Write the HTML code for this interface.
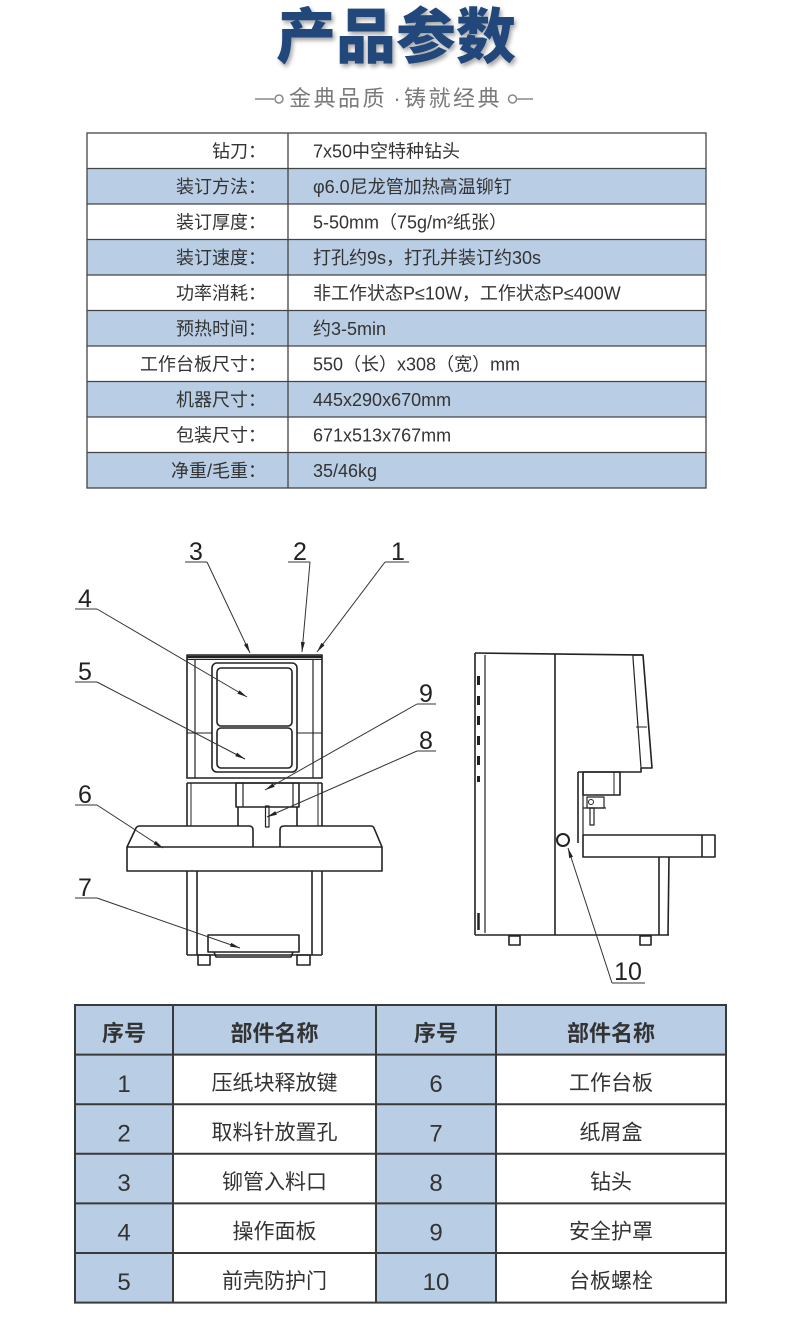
<!DOCTYPE html>
<html><head><meta charset="utf-8"><style>
html,body{margin:0;padding:0;background:#fff;}
body{width:790px;height:1320px;overflow:hidden;}
svg{display:block;}
.t{font-family:"Liberation Sans","Noto Sans CJK SC",sans-serif;}
.n{font-family:"Liberation Sans Narrow","Liberation Sans",sans-serif;}
</style></head><body>
<svg width="790" height="1320" viewBox="0 0 790 1320" xmlns="http://www.w3.org/2000/svg">
<defs>
<filter id="sh" x="-10%" y="-20%" width="130%" height="150%">
<feDropShadow dx="2" dy="3" stdDeviation="2" flood-color="#000" flood-opacity="0.35"/>
</filter>
<marker id="ar" viewBox="0 0 10 4" refX="10" refY="2" markerWidth="10" markerHeight="4" markerUnits="userSpaceOnUse" orient="auto">
<path d="M0,0 L10,2 L0,4 z" fill="#222"/>
</marker>
</defs>

<!-- Title -->
<text class="t" x="396" y="58" font-size="60" font-weight="900" fill="#24477a" text-anchor="middle" filter="url(#sh)">产品参数</text>
<g stroke="#888" stroke-width="1.5" fill="none">
<line x1="255" y1="99" x2="274" y2="99"/>
<circle cx="279" cy="99" r="4"/>
<circle cx="512.5" cy="99" r="4"/>
<line x1="517" y1="99" x2="533" y2="99"/>
</g>
<g class="t" font-size="22" fill="#7a7a7a">
<text x="289" y="106" letter-spacing="2.5">金典品质</text>
<text x="397" y="106" text-anchor="middle">·</text>
<text x="404" y="106" letter-spacing="2.5">铸就经典</text>
</g>

<!-- Top table -->
<g fill="#b9cde5">
<rect x="87" y="168.5" width="619" height="35.5"/>
<rect x="87" y="239.5" width="619" height="35.5"/>
<rect x="87" y="310.5" width="619" height="35.5"/>
<rect x="87" y="381.5" width="619" height="35.5"/>
<rect x="87" y="452.5" width="619" height="35.5"/>
</g>
<g stroke="#444" stroke-width="1.3" fill="none">
<rect x="87" y="133" width="619" height="355"/>
<line x1="87" y1="168.5" x2="706" y2="168.5"/>
<line x1="87" y1="204" x2="706" y2="204"/>
<line x1="87" y1="239.5" x2="706" y2="239.5"/>
<line x1="87" y1="275" x2="706" y2="275"/>
<line x1="87" y1="310.5" x2="706" y2="310.5"/>
<line x1="87" y1="346" x2="706" y2="346"/>
<line x1="87" y1="381.5" x2="706" y2="381.5"/>
<line x1="87" y1="417" x2="706" y2="417"/>
<line x1="87" y1="452.5" x2="706" y2="452.5"/>
<line x1="288" y1="133" x2="288" y2="488"/>
</g>
<g class="t" font-size="18" fill="#333">
<g text-anchor="end">
<text x="266" y="157.5">钻刀：</text>
<text x="266" y="193">装订方法：</text>
<text x="266" y="228.5">装订厚度：</text>
<text x="266" y="264">装订速度：</text>
<text x="266" y="299.5">功率消耗：</text>
<text x="266" y="335">预热时间：</text>
<text x="266" y="370.5">工作台板尺寸：</text>
<text x="266" y="406">机器尺寸：</text>
<text x="266" y="441.5">包装尺寸：</text>
<text x="266" y="477">净重/毛重：</text>
</g>
<text x="313" y="157.5">7x50中空特种钻头</text>
<text x="313" y="193">φ6.0尼龙管加热高温铆钉</text>
<text x="313" y="228.5">5-50mm（75g/m²纸张）</text>
<text x="313" y="264">打孔约9s，打孔并装订约30s</text>
<text x="313" y="299.5">非工作状态P≤10W，工作状态P≤400W</text>
<text x="313" y="335">约3-5min</text>
<text x="313" y="370.5">550（长）x308（宽）mm</text>
<text x="313" y="406">445x290x670mm</text>
<text x="313" y="441.5">671x513x767mm</text>
<text x="313" y="477">35/46kg</text>
</g>

<!-- Front view -->
<g stroke="#222" stroke-width="1.6" fill="none" stroke-linejoin="round">
<rect x="187" y="655" width="135" height="123"/>
<line x1="187" y1="657" x2="322" y2="657" stroke-width="2.5"/>
<line x1="187" y1="659.5" x2="322" y2="659.5" stroke-width="1"/>
<line x1="195" y1="659" x2="195" y2="778" stroke-width="1.2"/>
<line x1="313" y1="659" x2="313" y2="778" stroke-width="1.2"/>
<line x1="187" y1="733" x2="212" y2="733" stroke-width="1"/>
<line x1="297" y1="733" x2="322" y2="733" stroke-width="1"/>
<rect x="212" y="663" width="85" height="109" rx="5"/>
<rect x="217" y="668" width="75" height="58" rx="4"/>
<rect x="217" y="728" width="75" height="40" rx="4"/>
<line x1="187" y1="783" x2="322" y2="783"/>
<line x1="187" y1="783" x2="187" y2="826"/>
<line x1="322" y1="783" x2="322" y2="826"/>
<line x1="191" y1="783" x2="191" y2="826" stroke-width="1"/>
<line x1="318" y1="783" x2="318" y2="826" stroke-width="1"/>
<rect x="236" y="783" width="63" height="24"/>
<line x1="243" y1="783" x2="243" y2="807" stroke-width="1.2"/>
<line x1="293" y1="783" x2="293" y2="807" stroke-width="1.2"/>
<line x1="238" y1="807" x2="238" y2="826"/>
<line x1="297" y1="807" x2="297" y2="826"/>
<rect x="265.5" y="806" width="3.5" height="21" stroke-width="1.2"/>
<path d="M127,847 L136,828 Q137,826 140,826 L249,826 Q253,826 253,830 L253,847"/>
<path d="M280,847 L280,830 Q280,826 284,826 L371,826 Q373,826 374,828 L382,847"/>
<rect x="127" y="847" width="255" height="24"/>
<line x1="187" y1="871" x2="187" y2="955"/>
<line x1="197" y1="871" x2="197" y2="955"/>
<line x1="312" y1="871" x2="312" y2="955"/>
<line x1="322" y1="871" x2="322" y2="955"/>
<line x1="187" y1="955" x2="322" y2="955"/>
<rect x="208" y="935" width="91" height="17"/>
<path d="M214,952 L216,957 L291,957 L293,952"/>
<rect x="198" y="955" width="12" height="10"/>
<rect x="297" y="955" width="13" height="10"/>
</g>

<!-- Side view -->
<g stroke="#222" stroke-width="1.6" fill="none" stroke-linejoin="round">
<path d="M475,653 L643,655"/>
<line x1="475" y1="653" x2="475" y2="935"/>
<line x1="485" y1="655" x2="485" y2="933" stroke-width="1.2"/>
<line x1="478.5" y1="676" x2="478.5" y2="782" stroke-width="3" stroke-dasharray="9 11"/>
<line x1="478.5" y1="913" x2="478.5" y2="930" stroke-width="2.5"/>
<path d="M475,935 L669,935"/>
<line x1="555" y1="654" x2="555" y2="935"/>
<path d="M633,655 L643,655 L652,768 L641,768"/>
<path d="M633,655 L633,658 L641,768" stroke-width="1.2"/>
<line x1="636" y1="727" x2="647" y2="727" stroke-width="1"/>
<path d="M641,768 L641,772 L578,772"/>
<line x1="578" y1="772" x2="578" y2="843"/>
<line x1="583" y1="772" x2="583" y2="835" stroke-width="1.2"/>
<rect x="583" y="772" width="37" height="23"/>
<line x1="614" y1="772" x2="614" y2="795" stroke-width="1"/>
<rect x="587" y="797" width="17" height="11" stroke-width="1.2"/>
<circle cx="591" cy="802" r="2.5" stroke-width="1"/>
<line x1="583" y1="808" x2="606" y2="808" stroke-width="1.2"/>
<rect x="590" y="808" width="4" height="17" stroke-width="1.2"/>
<rect x="583" y="835" width="132" height="22"/>
<line x1="702" y1="835" x2="702" y2="857"/>
<line x1="659" y1="857" x2="659" y2="935"/>
<line x1="669" y1="857" x2="668" y2="935"/>
<rect x="509" y="936" width="11" height="9"/>
<rect x="640" y="936" width="11" height="9"/>
<circle cx="563" cy="840" r="6" stroke-width="2"/>
</g>

<!-- Leaders -->
<g stroke="#333" stroke-width="1" fill="none">
<line x1="185" y1="562" x2="207" y2="562"/>
<line x1="288" y1="562" x2="310" y2="562"/>
<line x1="385" y1="562" x2="409" y2="562"/>
<line x1="75" y1="609" x2="97" y2="609"/>
<line x1="75" y1="682" x2="97" y2="682"/>
<line x1="417" y1="704" x2="436" y2="704"/>
<line x1="417" y1="751" x2="436" y2="751"/>
<line x1="75" y1="805" x2="97" y2="805"/>
<line x1="75" y1="898" x2="97" y2="898"/>
<line x1="612" y1="983" x2="645" y2="983"/>
<g marker-end="url(#ar)">
<line x1="207" y1="562" x2="250" y2="653"/>
<line x1="310" y1="562" x2="302" y2="652"/>
<line x1="385" y1="562" x2="317" y2="652"/>
<line x1="97" y1="609" x2="247" y2="697"/>
<line x1="97" y1="682" x2="245" y2="759"/>
<line x1="417" y1="704" x2="265" y2="790"/>
<line x1="417" y1="751" x2="267" y2="817"/>
<line x1="97" y1="805" x2="163" y2="848"/>
<line x1="97" y1="898" x2="240" y2="948"/>
<line x1="612" y1="983" x2="568" y2="848"/>
</g>
</g>
<g class="n" font-size="25" fill="#222" text-anchor="middle">
<text x="196" y="560">3</text>
<text x="300" y="560">2</text>
<text x="398" y="560">1</text>
<text x="85" y="607">4</text>
<text x="85" y="680">5</text>
<text x="426" y="702">9</text>
<text x="426" y="749">8</text>
<text x="85" y="803">6</text>
<text x="85" y="896">7</text>
<text x="628" y="980">10</text>
</g>

<!-- Bottom table -->
<g fill="#b9cde5">
<rect x="75" y="1005" width="651" height="49.6"/>
<rect x="75" y="1054.6" width="98" height="248"/>
<rect x="376" y="1054.6" width="120" height="248"/>
</g>
<g stroke="#3a3a3a" stroke-width="2" fill="none">
<rect x="75" y="1005" width="651" height="297.6"/>
<line x1="75" y1="1054.6" x2="726" y2="1054.6"/>
<line x1="75" y1="1104.2" x2="726" y2="1104.2"/>
<line x1="75" y1="1153.8" x2="726" y2="1153.8"/>
<line x1="75" y1="1203.4" x2="726" y2="1203.4"/>
<line x1="75" y1="1253" x2="726" y2="1253"/>
<line x1="173" y1="1005" x2="173" y2="1302.6"/>
<line x1="376" y1="1005" x2="376" y2="1302.6"/>
<line x1="496" y1="1005" x2="496" y2="1302.6"/>
</g>
<g class="t" fill="#333" text-anchor="middle">
<g font-size="22" font-weight="bold">
<text x="124" y="1041">序号</text>
<text x="274.5" y="1041">部件名称</text>
<text x="436" y="1041">序号</text>
<text x="611" y="1041">部件名称</text>
</g>
<g font-size="24">
<text x="124" y="1092">1</text>
<text x="124" y="1141.5">2</text>
<text x="124" y="1191">3</text>
<text x="124" y="1240.5">4</text>
<text x="124" y="1290">5</text>
<text x="436" y="1092">6</text>
<text x="436" y="1141.5">7</text>
<text x="436" y="1191">8</text>
<text x="436" y="1240.5">9</text>
<text x="436" y="1290">10</text>
</g>
<g font-size="21">
<text x="274.5" y="1090">压纸块释放键</text>
<text x="274.5" y="1139.5">取料针放置孔</text>
<text x="274.5" y="1189">铆管入料口</text>
<text x="274.5" y="1238.5">操作面板</text>
<text x="274.5" y="1288">前壳防护门</text>
<text x="611" y="1090">工作台板</text>
<text x="611" y="1139.5">纸屑盒</text>
<text x="611" y="1189">钻头</text>
<text x="611" y="1238.5">安全护罩</text>
<text x="611" y="1288">台板螺栓</text>
</g>
</g>
</svg>
</body></html>
